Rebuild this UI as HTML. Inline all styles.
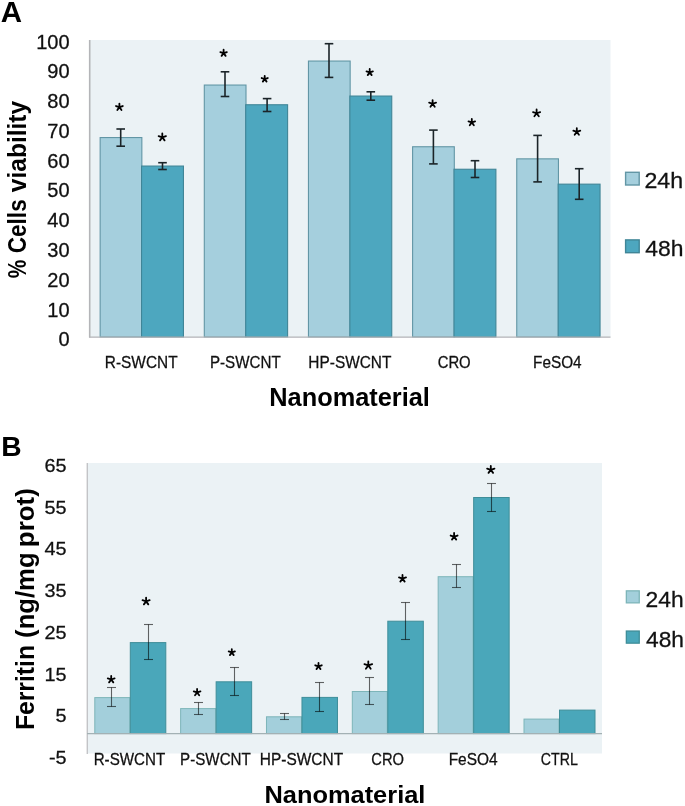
<!DOCTYPE html>
<html><head><meta charset="utf-8"><style>
html,body{margin:0;padding:0;background:#fff;width:685px;height:806px;overflow:hidden}
svg{display:block;will-change:transform}
text{font-family:"Liberation Sans",sans-serif;font-kerning:none;white-space:pre}
</style></head><body>
<svg width="685" height="806" viewBox="0 0 685 806">
<rect width="685" height="806" fill="#fff"/>
<!-- chart A -->
<rect x="90.00" y="40.00" width="520.50" height="297.50" fill="#EBF2F5"/>
<rect x="100.15" y="137.55" width="41.70" height="199.45" fill="#A5CFDD" stroke="#6296A5" stroke-width="1.1"/>
<rect x="141.55" y="166.05" width="41.90" height="170.95" fill="#4DA7BF" stroke="#408597" stroke-width="1.1"/>
<rect x="204.30" y="85.05" width="41.70" height="251.95" fill="#A5CFDD" stroke="#6296A5" stroke-width="1.1"/>
<rect x="245.70" y="104.75" width="41.90" height="232.25" fill="#4DA7BF" stroke="#408597" stroke-width="1.1"/>
<rect x="308.45" y="61.05" width="41.70" height="275.95" fill="#A5CFDD" stroke="#6296A5" stroke-width="1.1"/>
<rect x="349.85" y="96.05" width="41.90" height="240.95" fill="#4DA7BF" stroke="#408597" stroke-width="1.1"/>
<rect x="412.60" y="146.75" width="41.70" height="190.25" fill="#A5CFDD" stroke="#6296A5" stroke-width="1.1"/>
<rect x="454.00" y="169.25" width="41.90" height="167.75" fill="#4DA7BF" stroke="#408597" stroke-width="1.1"/>
<rect x="516.75" y="158.85" width="41.70" height="178.15" fill="#A5CFDD" stroke="#6296A5" stroke-width="1.1"/>
<rect x="558.15" y="184.15" width="41.90" height="152.85" fill="#4DA7BF" stroke="#408597" stroke-width="1.1"/>
<line x1="89.70" y1="40.00" x2="89.70" y2="337.50" stroke="#B4B5B8" stroke-width="1.6"/>
<line x1="89.00" y1="337.10" x2="610.50" y2="337.10" stroke="#B4B5B8" stroke-width="1.4"/>
<line x1="120.70" y1="129.00" x2="120.70" y2="146.20" stroke="#1b2428" stroke-width="1.6"/>
<line x1="116.40" y1="129.00" x2="125.00" y2="129.00" stroke="#1b2428" stroke-width="1.6"/>
<line x1="116.40" y1="146.20" x2="125.00" y2="146.20" stroke="#1b2428" stroke-width="1.6"/>
<line x1="162.50" y1="162.70" x2="162.50" y2="169.50" stroke="#1b2428" stroke-width="1.6"/>
<line x1="158.20" y1="162.70" x2="166.80" y2="162.70" stroke="#1b2428" stroke-width="1.6"/>
<line x1="158.20" y1="169.50" x2="166.80" y2="169.50" stroke="#1b2428" stroke-width="1.6"/>
<line x1="225.00" y1="71.80" x2="225.00" y2="96.50" stroke="#1b2428" stroke-width="1.6"/>
<line x1="220.70" y1="71.80" x2="229.30" y2="71.80" stroke="#1b2428" stroke-width="1.6"/>
<line x1="220.70" y1="96.50" x2="229.30" y2="96.50" stroke="#1b2428" stroke-width="1.6"/>
<line x1="267.10" y1="98.60" x2="267.10" y2="111.50" stroke="#1b2428" stroke-width="1.6"/>
<line x1="262.80" y1="98.60" x2="271.40" y2="98.60" stroke="#1b2428" stroke-width="1.6"/>
<line x1="262.80" y1="111.50" x2="271.40" y2="111.50" stroke="#1b2428" stroke-width="1.6"/>
<line x1="329.00" y1="43.70" x2="329.00" y2="77.40" stroke="#1b2428" stroke-width="1.6"/>
<line x1="324.70" y1="43.70" x2="333.30" y2="43.70" stroke="#1b2428" stroke-width="1.6"/>
<line x1="324.70" y1="77.40" x2="333.30" y2="77.40" stroke="#1b2428" stroke-width="1.6"/>
<line x1="370.80" y1="91.80" x2="370.80" y2="100.20" stroke="#1b2428" stroke-width="1.6"/>
<line x1="366.50" y1="91.80" x2="375.10" y2="91.80" stroke="#1b2428" stroke-width="1.6"/>
<line x1="366.50" y1="100.20" x2="375.10" y2="100.20" stroke="#1b2428" stroke-width="1.6"/>
<line x1="433.40" y1="130.10" x2="433.40" y2="163.90" stroke="#1b2428" stroke-width="1.6"/>
<line x1="429.10" y1="130.10" x2="437.70" y2="130.10" stroke="#1b2428" stroke-width="1.6"/>
<line x1="429.10" y1="163.90" x2="437.70" y2="163.90" stroke="#1b2428" stroke-width="1.6"/>
<line x1="475.00" y1="160.70" x2="475.00" y2="177.50" stroke="#1b2428" stroke-width="1.6"/>
<line x1="470.70" y1="160.70" x2="479.30" y2="160.70" stroke="#1b2428" stroke-width="1.6"/>
<line x1="470.70" y1="177.50" x2="479.30" y2="177.50" stroke="#1b2428" stroke-width="1.6"/>
<line x1="537.60" y1="135.40" x2="537.60" y2="181.90" stroke="#1b2428" stroke-width="1.6"/>
<line x1="533.30" y1="135.40" x2="541.90" y2="135.40" stroke="#1b2428" stroke-width="1.6"/>
<line x1="533.30" y1="181.90" x2="541.90" y2="181.90" stroke="#1b2428" stroke-width="1.6"/>
<line x1="579.20" y1="168.70" x2="579.20" y2="199.30" stroke="#1b2428" stroke-width="1.6"/>
<line x1="574.90" y1="168.70" x2="583.50" y2="168.70" stroke="#1b2428" stroke-width="1.6"/>
<line x1="574.90" y1="199.30" x2="583.50" y2="199.30" stroke="#1b2428" stroke-width="1.6"/>
<path d="M119.40,107.14L119.40,103.60M119.40,107.14L122.76,106.04M119.40,107.14L121.48,110.00M119.40,107.14L117.32,110.00M119.40,107.14L116.04,106.04" stroke="#000" stroke-width="1.8" stroke-linecap="round" fill="none"/>
<path d="M162.30,137.27L162.30,133.40M162.30,137.27L165.98,136.07M162.30,137.27L164.57,140.40M162.30,137.27L160.03,140.40M162.30,137.27L158.62,136.07" stroke="#000" stroke-width="1.8" stroke-linecap="round" fill="none"/>
<path d="M223.60,53.13L223.60,49.70M223.60,53.13L226.86,52.07M223.60,53.13L225.61,55.90M223.60,53.13L221.59,55.90M223.60,53.13L220.34,52.07" stroke="#000" stroke-width="1.8" stroke-linecap="round" fill="none"/>
<path d="M264.70,79.01L264.70,75.80M264.70,79.01L267.75,78.02M264.70,79.01L266.58,81.60M264.70,79.01L262.82,81.60M264.70,79.01L261.65,78.02" stroke="#000" stroke-width="1.8" stroke-linecap="round" fill="none"/>
<path d="M369.70,72.37L369.70,69.00M369.70,72.37L372.91,71.33M369.70,72.37L371.68,75.10M369.70,72.37L367.72,75.10M369.70,72.37L366.49,71.33" stroke="#000" stroke-width="1.8" stroke-linecap="round" fill="none"/>
<path d="M432.60,103.75L432.60,100.10M432.60,103.75L436.07,102.62M432.60,103.75L434.74,106.70M432.60,103.75L430.46,106.70M432.60,103.75L429.13,102.62" stroke="#000" stroke-width="1.8" stroke-linecap="round" fill="none"/>
<path d="M471.80,122.38L471.80,118.90M471.80,122.38L475.11,121.31M471.80,122.38L473.85,125.20M471.80,122.38L469.75,125.20M471.80,122.38L468.49,121.31" stroke="#000" stroke-width="1.8" stroke-linecap="round" fill="none"/>
<path d="M536.60,113.26L536.60,109.50M536.60,113.26L540.17,112.10M536.60,113.26L538.81,116.30M536.60,113.26L534.39,116.30M536.60,113.26L533.03,112.10" stroke="#000" stroke-width="1.8" stroke-linecap="round" fill="none"/>
<path d="M576.80,131.85L576.80,128.20M576.80,131.85L580.27,130.72M576.80,131.85L578.94,134.80M576.80,131.85L574.66,134.80M576.80,131.85L573.33,130.72" stroke="#000" stroke-width="1.8" stroke-linecap="round" fill="none"/>
<text transform="translate(36.17,48.64) scale(1.0375,1)" font-size="19.30" font-weight="normal" fill="#111" stroke="#111" stroke-width="0.28">100</text>
<text transform="translate(47.31,78.41) scale(1.0375,1)" font-size="19.30" font-weight="normal" fill="#111" stroke="#111" stroke-width="0.28">90</text>
<text transform="translate(47.31,108.18) scale(1.0375,1)" font-size="19.30" font-weight="normal" fill="#111" stroke="#111" stroke-width="0.28">80</text>
<text transform="translate(47.31,137.95) scale(1.0375,1)" font-size="19.30" font-weight="normal" fill="#111" stroke="#111" stroke-width="0.28">70</text>
<text transform="translate(47.31,167.72) scale(1.0375,1)" font-size="19.30" font-weight="normal" fill="#111" stroke="#111" stroke-width="0.28">60</text>
<text transform="translate(47.31,197.49) scale(1.0375,1)" font-size="19.30" font-weight="normal" fill="#111" stroke="#111" stroke-width="0.28">50</text>
<text transform="translate(47.31,227.26) scale(1.0375,1)" font-size="19.30" font-weight="normal" fill="#111" stroke="#111" stroke-width="0.28">40</text>
<text transform="translate(47.31,257.03) scale(1.0375,1)" font-size="19.30" font-weight="normal" fill="#111" stroke="#111" stroke-width="0.28">30</text>
<text transform="translate(47.31,286.80) scale(1.0375,1)" font-size="19.30" font-weight="normal" fill="#111" stroke="#111" stroke-width="0.28">20</text>
<text transform="translate(47.31,316.57) scale(1.0375,1)" font-size="19.30" font-weight="normal" fill="#111" stroke="#111" stroke-width="0.28">10</text>
<text transform="translate(58.45,346.34) scale(1.0375,1)" font-size="19.30" font-weight="normal" fill="#111" stroke="#111" stroke-width="0.28">0</text>
<text transform="translate(104.83,368.00) scale(0.9531,1)" font-size="16.18" font-weight="normal" fill="#111" stroke="#111" stroke-width="0.28">R-SWCNT</text>
<text transform="translate(209.96,368.00) scale(0.9375,1)" font-size="16.18" font-weight="normal" fill="#111" stroke="#111" stroke-width="0.28">P-SWCNT</text>
<text transform="translate(308.33,368.00) scale(0.9532,1)" font-size="16.18" font-weight="normal" fill="#111" stroke="#111" stroke-width="0.28">HP-SWCNT</text>
<text transform="translate(437.64,368.00) scale(0.9195,1)" font-size="16.18" font-weight="normal" fill="#111" stroke="#111" stroke-width="0.28">CRO</text>
<text transform="translate(533.04,368.00) scale(0.9481,1)" font-size="16.18" font-weight="normal" fill="#111" stroke="#111" stroke-width="0.28">FeSO4</text>
<text transform="translate(269.30,405.50) scale(1.0154,1)" font-size="24.98" font-weight="bold" fill="#000">Nanomaterial</text>
<text transform="translate(25.50,278.32) rotate(-90) scale(0.8180,1)" font-size="25.53" font-weight="bold" fill="#000">%</text>
<text transform="translate(25.50,253.23) rotate(-90) scale(0.8841,1)" font-size="25.53" font-weight="bold" fill="#000">Cells</text>
<text transform="translate(25.50,192.20) rotate(-90) scale(0.9617,1)" font-size="25.53" font-weight="bold" fill="#000">viability</text>
<text transform="translate(0.77,21.75) scale(1.0077,1)" font-size="29.29" font-weight="bold" fill="#000">A</text>
<rect x="625.60" y="172.30" width="13.60" height="12.70" fill="#A5CFDD" stroke="#6296A5" stroke-width="1.4"/>
<rect x="625.60" y="239.90" width="13.60" height="12.80" fill="#4DA7BF" stroke="#408597" stroke-width="1.4"/>
<text transform="translate(644.43,188.10) scale(1.0367,1)" font-size="22.36" font-weight="normal" fill="#111" stroke="#111" stroke-width="0.28">24h</text>
<text transform="translate(645.27,256.20) scale(1.0571,1)" font-size="21.67" font-weight="normal" fill="#111" stroke="#111" stroke-width="0.28">48h</text>
<!-- chart B -->
<rect x="88.00" y="463.00" width="514.00" height="290.50" fill="#EBF2F5"/>
<rect x="94.80" y="697.60" width="35.00" height="36.00" fill="#A3CFDB" stroke="#7DB5B9" stroke-width="1.0"/>
<rect x="130.30" y="642.60" width="35.50" height="91.00" fill="#4AA7BA" stroke="#3F8E99" stroke-width="1.0"/>
<rect x="180.64" y="708.60" width="35.00" height="25.00" fill="#A3CFDB" stroke="#7DB5B9" stroke-width="1.0"/>
<rect x="216.14" y="681.80" width="35.50" height="51.80" fill="#4AA7BA" stroke="#3F8E99" stroke-width="1.0"/>
<rect x="266.48" y="716.80" width="35.00" height="16.80" fill="#A3CFDB" stroke="#7DB5B9" stroke-width="1.0"/>
<rect x="301.98" y="697.40" width="35.50" height="36.20" fill="#4AA7BA" stroke="#3F8E99" stroke-width="1.0"/>
<rect x="352.32" y="691.50" width="35.00" height="42.10" fill="#A3CFDB" stroke="#7DB5B9" stroke-width="1.0"/>
<rect x="387.82" y="621.20" width="35.50" height="112.40" fill="#4AA7BA" stroke="#3F8E99" stroke-width="1.0"/>
<rect x="438.16" y="576.70" width="35.00" height="156.90" fill="#A3CFDB" stroke="#7DB5B9" stroke-width="1.0"/>
<rect x="473.66" y="497.50" width="35.50" height="236.10" fill="#4AA7BA" stroke="#3F8E99" stroke-width="1.0"/>
<rect x="524.00" y="719.10" width="35.00" height="14.50" fill="#A3CFDB" stroke="#7DB5B9" stroke-width="1.0"/>
<rect x="559.50" y="710.10" width="35.50" height="23.50" fill="#4AA7BA" stroke="#3F8E99" stroke-width="1.0"/>
<line x1="87.30" y1="463.00" x2="87.30" y2="754.00" stroke="#C3C4C7" stroke-width="1.4"/>
<line x1="87.00" y1="733.60" x2="602.00" y2="733.60" stroke="#A3B1B4" stroke-width="1.4"/>
<line x1="111.50" y1="687.50" x2="111.50" y2="706.50" stroke="rgba(0,0,0,0.6)" stroke-width="1.1"/>
<line x1="107.00" y1="687.50" x2="116.00" y2="687.50" stroke="rgba(0,0,0,0.6)" stroke-width="1.1"/>
<line x1="107.00" y1="706.50" x2="116.00" y2="706.50" stroke="rgba(0,0,0,0.6)" stroke-width="1.1"/>
<line x1="148.50" y1="624.50" x2="148.50" y2="659.50" stroke="rgba(0,0,0,0.6)" stroke-width="1.1"/>
<line x1="144.00" y1="624.50" x2="153.00" y2="624.50" stroke="rgba(0,0,0,0.6)" stroke-width="1.1"/>
<line x1="144.00" y1="659.50" x2="153.00" y2="659.50" stroke="rgba(0,0,0,0.6)" stroke-width="1.1"/>
<line x1="198.50" y1="702.50" x2="198.50" y2="714.50" stroke="rgba(0,0,0,0.6)" stroke-width="1.1"/>
<line x1="194.00" y1="702.50" x2="203.00" y2="702.50" stroke="rgba(0,0,0,0.6)" stroke-width="1.1"/>
<line x1="194.00" y1="714.50" x2="203.00" y2="714.50" stroke="rgba(0,0,0,0.6)" stroke-width="1.1"/>
<line x1="234.50" y1="667.50" x2="234.50" y2="695.50" stroke="rgba(0,0,0,0.6)" stroke-width="1.1"/>
<line x1="230.00" y1="667.50" x2="239.00" y2="667.50" stroke="rgba(0,0,0,0.6)" stroke-width="1.1"/>
<line x1="230.00" y1="695.50" x2="239.00" y2="695.50" stroke="rgba(0,0,0,0.6)" stroke-width="1.1"/>
<line x1="284.50" y1="713.50" x2="284.50" y2="719.50" stroke="rgba(0,0,0,0.6)" stroke-width="1.1"/>
<line x1="280.00" y1="713.50" x2="289.00" y2="713.50" stroke="rgba(0,0,0,0.6)" stroke-width="1.1"/>
<line x1="280.00" y1="719.50" x2="289.00" y2="719.50" stroke="rgba(0,0,0,0.6)" stroke-width="1.1"/>
<line x1="319.50" y1="682.50" x2="319.50" y2="711.50" stroke="rgba(0,0,0,0.6)" stroke-width="1.1"/>
<line x1="315.00" y1="682.50" x2="324.00" y2="682.50" stroke="rgba(0,0,0,0.6)" stroke-width="1.1"/>
<line x1="315.00" y1="711.50" x2="324.00" y2="711.50" stroke="rgba(0,0,0,0.6)" stroke-width="1.1"/>
<line x1="369.50" y1="677.50" x2="369.50" y2="704.50" stroke="rgba(0,0,0,0.6)" stroke-width="1.1"/>
<line x1="365.00" y1="677.50" x2="374.00" y2="677.50" stroke="rgba(0,0,0,0.6)" stroke-width="1.1"/>
<line x1="365.00" y1="704.50" x2="374.00" y2="704.50" stroke="rgba(0,0,0,0.6)" stroke-width="1.1"/>
<line x1="405.50" y1="602.50" x2="405.50" y2="639.50" stroke="rgba(0,0,0,0.6)" stroke-width="1.1"/>
<line x1="401.00" y1="602.50" x2="410.00" y2="602.50" stroke="rgba(0,0,0,0.6)" stroke-width="1.1"/>
<line x1="401.00" y1="639.50" x2="410.00" y2="639.50" stroke="rgba(0,0,0,0.6)" stroke-width="1.1"/>
<line x1="456.50" y1="564.50" x2="456.50" y2="587.50" stroke="rgba(0,0,0,0.6)" stroke-width="1.1"/>
<line x1="452.00" y1="564.50" x2="461.00" y2="564.50" stroke="rgba(0,0,0,0.6)" stroke-width="1.1"/>
<line x1="452.00" y1="587.50" x2="461.00" y2="587.50" stroke="rgba(0,0,0,0.6)" stroke-width="1.1"/>
<line x1="491.50" y1="483.50" x2="491.50" y2="511.50" stroke="rgba(0,0,0,0.6)" stroke-width="1.1"/>
<line x1="487.00" y1="483.50" x2="496.00" y2="483.50" stroke="rgba(0,0,0,0.6)" stroke-width="1.1"/>
<line x1="487.00" y1="511.50" x2="496.00" y2="511.50" stroke="rgba(0,0,0,0.6)" stroke-width="1.1"/>
<path d="M111.20,679.49L111.20,675.90M111.20,679.49L114.62,678.38M111.20,679.49L113.31,682.40M111.20,679.49L109.09,682.40M111.20,679.49L107.78,678.38" stroke="#000" stroke-width="1.8" stroke-linecap="round" fill="none"/>
<path d="M146.10,601.36L146.10,597.60M146.10,601.36L149.67,600.20M146.10,601.36L148.31,604.40M146.10,601.36L143.89,604.40M146.10,601.36L142.53,600.20" stroke="#000" stroke-width="1.8" stroke-linecap="round" fill="none"/>
<path d="M197.10,692.44L197.10,688.90M197.10,692.44L200.46,691.34M197.10,692.44L199.18,695.30M197.10,692.44L195.02,695.30M197.10,692.44L193.74,691.34" stroke="#000" stroke-width="1.8" stroke-linecap="round" fill="none"/>
<path d="M231.80,652.46L231.80,649.20M231.80,652.46L234.90,651.45M231.80,652.46L233.72,655.10M231.80,652.46L229.88,655.10M231.80,652.46L228.70,651.45" stroke="#000" stroke-width="1.8" stroke-linecap="round" fill="none"/>
<path d="M318.50,666.33L318.50,662.90M318.50,666.33L321.76,665.27M318.50,666.33L320.51,669.10M318.50,666.33L316.49,669.10M318.50,666.33L315.24,665.27" stroke="#000" stroke-width="1.8" stroke-linecap="round" fill="none"/>
<path d="M368.30,665.39L368.30,661.30M368.30,665.39L372.19,664.13M368.30,665.39L370.70,668.70M368.30,665.39L365.90,668.70M368.30,665.39L364.41,664.13" stroke="#000" stroke-width="1.8" stroke-linecap="round" fill="none"/>
<path d="M402.50,578.60L402.50,574.90M402.50,578.60L406.02,577.46M402.50,578.60L404.68,581.60M402.50,578.60L400.32,581.60M402.50,578.60L398.98,577.46" stroke="#000" stroke-width="1.8" stroke-linecap="round" fill="none"/>
<path d="M454.10,536.65L454.10,533.00M454.10,536.65L457.57,535.52M454.10,536.65L456.24,539.60M454.10,536.65L451.96,539.60M454.10,536.65L450.63,535.52" stroke="#000" stroke-width="1.8" stroke-linecap="round" fill="none"/>
<path d="M490.80,469.77L490.80,465.90M490.80,469.77L494.48,468.57M490.80,469.77L493.07,472.90M490.80,469.77L488.53,472.90M490.80,469.77L487.12,468.57" stroke="#000" stroke-width="1.8" stroke-linecap="round" fill="none"/>
<text transform="translate(44.49,471.91) scale(1.0483,1)" font-size="18.90" font-weight="normal" fill="#111" stroke="#111" stroke-width="0.28">65</text>
<text transform="translate(44.49,513.67) scale(1.0483,1)" font-size="18.90" font-weight="normal" fill="#111" stroke="#111" stroke-width="0.28">55</text>
<text transform="translate(44.49,555.43) scale(1.0483,1)" font-size="18.90" font-weight="normal" fill="#111" stroke="#111" stroke-width="0.28">45</text>
<text transform="translate(44.49,597.19) scale(1.0483,1)" font-size="18.90" font-weight="normal" fill="#111" stroke="#111" stroke-width="0.28">35</text>
<text transform="translate(44.49,638.95) scale(1.0483,1)" font-size="18.90" font-weight="normal" fill="#111" stroke="#111" stroke-width="0.28">25</text>
<text transform="translate(44.49,680.71) scale(1.0483,1)" font-size="18.90" font-weight="normal" fill="#111" stroke="#111" stroke-width="0.28">15</text>
<text transform="translate(55.51,722.47) scale(1.0483,1)" font-size="18.90" font-weight="normal" fill="#111" stroke="#111" stroke-width="0.28">5</text>
<text transform="translate(48.92,764.23) scale(1.0483,1)" font-size="18.90" font-weight="normal" fill="#111" stroke="#111" stroke-width="0.28">-5</text>
<text transform="translate(93.66,765.10) scale(0.9370,1)" font-size="16.18" font-weight="normal" fill="#111" stroke="#111" stroke-width="0.28">R-SWCNT</text>
<text transform="translate(180.06,765.10) scale(0.9375,1)" font-size="16.18" font-weight="normal" fill="#111" stroke="#111" stroke-width="0.28">P-SWCNT</text>
<text transform="translate(259.83,765.10) scale(0.9555,1)" font-size="16.18" font-weight="normal" fill="#111" stroke="#111" stroke-width="0.28">HP-SWCNT</text>
<text transform="translate(371.25,765.10) scale(0.9108,1)" font-size="16.18" font-weight="normal" fill="#111" stroke="#111" stroke-width="0.28">CRO</text>
<text transform="translate(448.63,765.10) scale(0.9562,1)" font-size="16.18" font-weight="normal" fill="#111" stroke="#111" stroke-width="0.28">FeSO4</text>
<text transform="translate(540.78,765.10) scale(0.8777,1)" font-size="16.18" font-weight="normal" fill="#111" stroke="#111" stroke-width="0.28">CTRL</text>
<text transform="translate(264.40,803.00) scale(1.0529,1)" font-size="24.15" font-weight="bold" fill="#000">Nanomaterial</text>
<text transform="translate(33.50,730.05) rotate(-90) scale(0.9571,1)" font-size="25.81" font-weight="bold" fill="#000">Ferritin</text>
<text transform="translate(33.50,637.88) rotate(-90) scale(0.9941,1)" font-size="25.81" font-weight="bold" fill="#000">(ng/mg</text>
<text transform="translate(33.50,547.21) rotate(-90) scale(1.0059,1)" font-size="25.81" font-weight="bold" fill="#000">prot)</text>
<text transform="translate(1.31,455.80) scale(1.0212,1)" font-size="27.62" font-weight="bold" fill="#000">B</text>
<rect x="626.35" y="590.85" width="12.90" height="12.00" fill="#A3CFDB" stroke="#7DB5B9" stroke-width="1.3"/>
<rect x="626.35" y="631.05" width="12.90" height="12.10" fill="#4AA7BA" stroke="#3F8E99" stroke-width="1.3"/>
<text transform="translate(645.55,606.70) scale(1.0098,1)" font-size="22.63" font-weight="normal" fill="#111" stroke="#111" stroke-width="0.28">24h</text>
<text transform="translate(645.98,646.90) scale(1.0251,1)" font-size="22.22" font-weight="normal" fill="#111" stroke="#111" stroke-width="0.28">48h</text>
</svg>
</body></html>
